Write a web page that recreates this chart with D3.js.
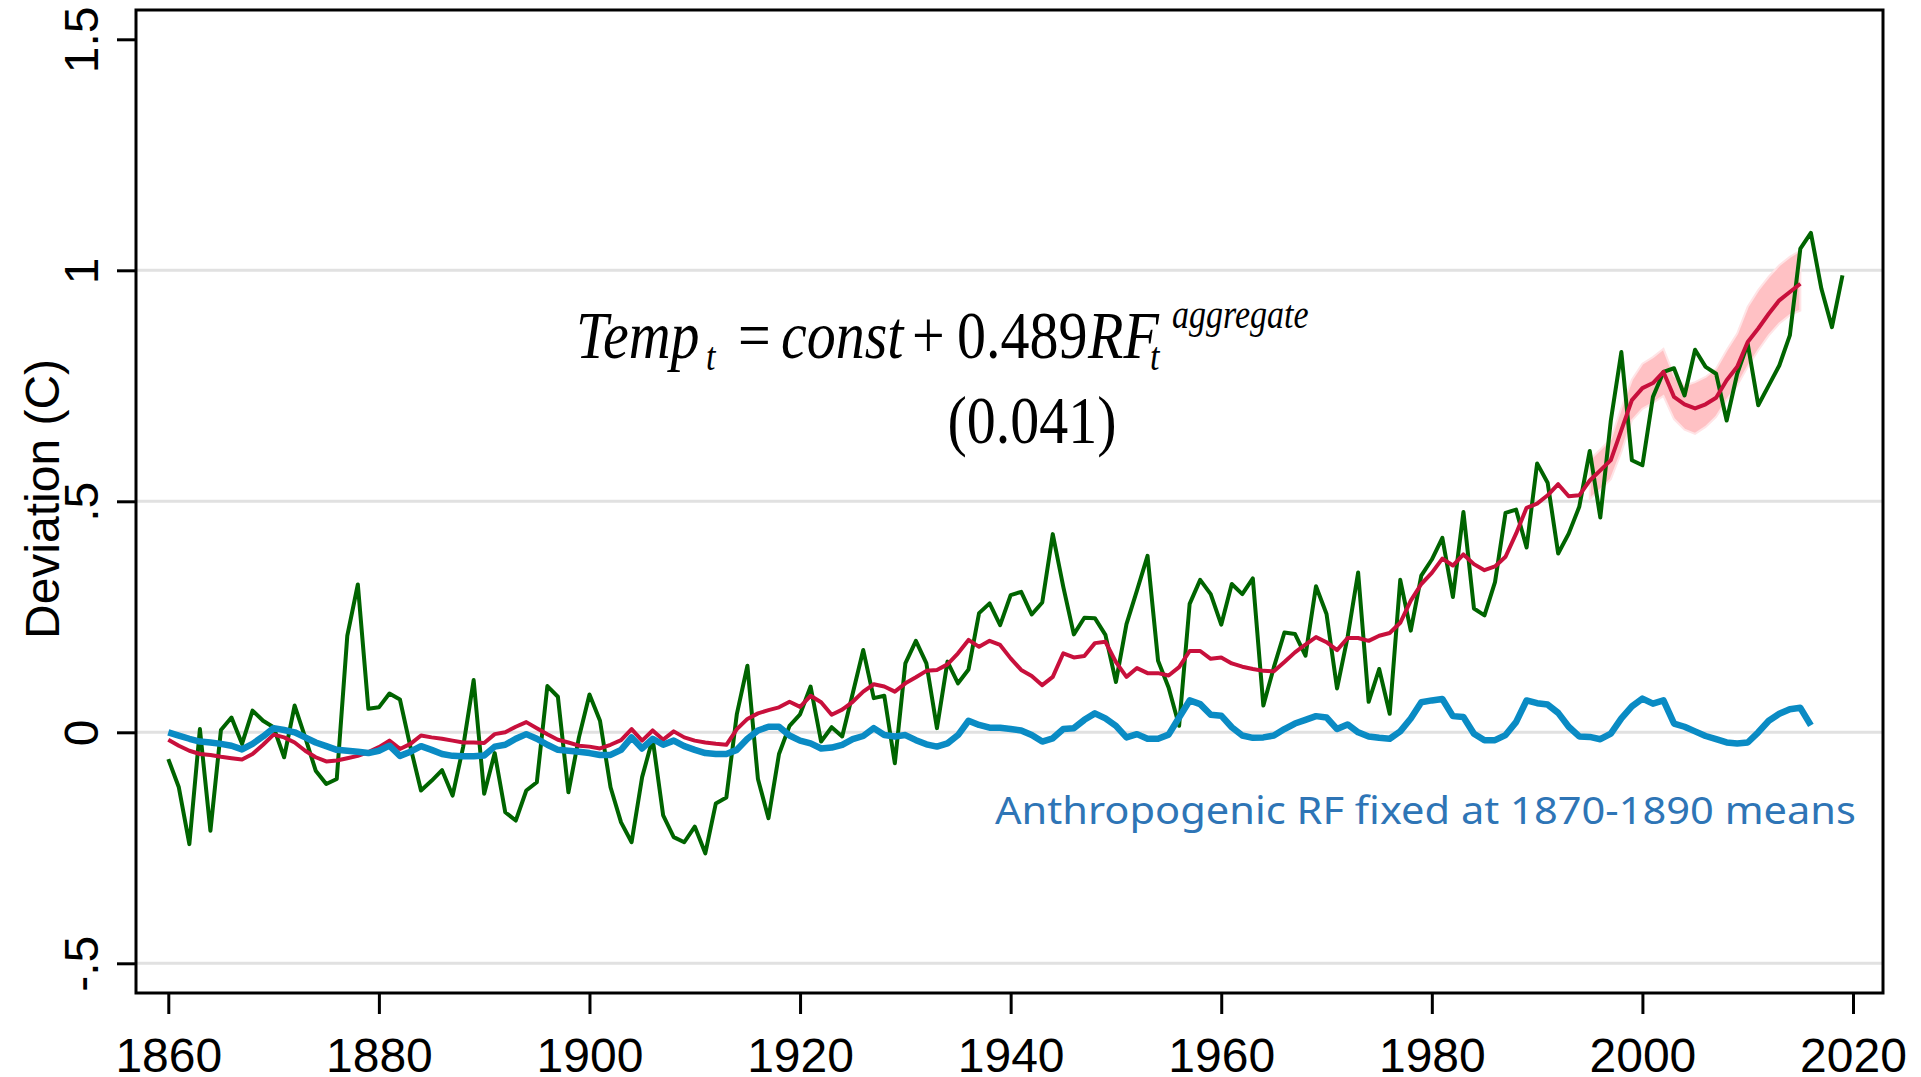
<!DOCTYPE html>
<html>
<head>
<meta charset="utf-8">
<script src="https://cdn.jsdelivr.net/npm/d3@7"></script>
<style>
  body { margin: 0; background: #fff; }
  svg { display: block; }
  .axis text { font-family: "Liberation Sans", Arial, sans-serif; font-size: 48px; fill: #000; }
  .axis line { stroke: #000; stroke-width: 3px; }
  .eq { font-family: "Liberation Serif", "Times New Roman", serif; fill: #000; }
</style>
</head>
<body>
<svg width="1921" height="1077"></svg>
<script>
// observed temperature deviation, 1860-2019
var tempYears = d3.range(1860, 2020);
var tempObs = [
  -0.058, -0.119, -0.242, 0.007, -0.213, 0.005, 0.032, -0.025, 0.047, 0.025,
  0.011, -0.054, 0.058, -0.011, -0.083, -0.112, -0.101, 0.209, 0.320, 0.051,
  0.054, 0.084, 0.071, -0.032, -0.126, -0.105, -0.082, -0.137, -0.032, 0.113,
  -0.133, -0.045, -0.173, -0.191, -0.126, -0.108, 0.100, 0.077, -0.130, -0.011,
  0.082, 0.025, -0.119, -0.195, -0.238, -0.097, -0.014, -0.180, -0.227, -0.238,
  -0.204, -0.262, -0.154, -0.141, 0.040, 0.144, -0.101, -0.186, -0.047, 0.014,
  0.039, 0.099, -0.020, 0.011, -0.009, 0.084, 0.178, 0.074, 0.079, -0.067,
  0.149, 0.198, 0.149, 0.009, 0.153, 0.106, 0.136, 0.258, 0.279, 0.232,
  0.297, 0.304, 0.255, 0.281, 0.429, 0.315, 0.212, 0.248, 0.247, 0.211,
  0.109, 0.234, 0.307, 0.382, 0.155, 0.097, 0.014, 0.278, 0.330, 0.299,
  0.233, 0.321, 0.299, 0.333, 0.058, 0.141, 0.216, 0.213, 0.166, 0.316,
  0.256, 0.095, 0.206, 0.346, 0.066, 0.137, 0.040, 0.330, 0.220, 0.339,
  0.374, 0.421, 0.293, 0.477, 0.268, 0.253, 0.325, 0.475, 0.482, 0.400,
  0.582, 0.540, 0.387, 0.430, 0.488, 0.609, 0.465, 0.675, 0.823, 0.589,
  0.578, 0.726, 0.780, 0.788, 0.729, 0.828, 0.791, 0.776, 0.675, 0.776,
  0.841, 0.708, 0.751, 0.794, 0.859, 1.047, 1.081, 0.960, 0.877, 0.989
];

// fitted values from aggregate RF, 1860-2015
var fitYears = d3.range(1860, 2016);
var fitAggregate = [
  -0.016, -0.029, -0.040, -0.047, -0.049, -0.053, -0.056, -0.059, -0.047, -0.027,
  -0.005, -0.011, -0.022, -0.040, -0.054, -0.063, -0.061, -0.056, -0.051, -0.043,
  -0.032, -0.018, -0.036, -0.025, -0.007, -0.011, -0.014, -0.018, -0.022, -0.022,
  -0.023, -0.004, 0.000, 0.012, 0.022, 0.009, -0.004, -0.016, -0.022, -0.029,
  -0.031, -0.035, -0.027, -0.017, 0.007, -0.018, 0.004, -0.016, 0.002, -0.011,
  -0.018, -0.022, -0.025, -0.027, 0.007, 0.029, 0.041, 0.048, 0.054, 0.066,
  0.055, 0.079, 0.065, 0.038, 0.049, 0.066, 0.088, 0.104, 0.099, 0.088,
  0.106, 0.119, 0.133, 0.135, 0.147, 0.171, 0.200, 0.185, 0.198, 0.189,
  0.160, 0.135, 0.122, 0.102, 0.120, 0.171, 0.162, 0.165, 0.193, 0.196,
  0.152, 0.120, 0.139, 0.128, 0.128, 0.123, 0.141, 0.176, 0.176, 0.159,
  0.162, 0.149, 0.142, 0.137, 0.133, 0.132, 0.152, 0.173, 0.190, 0.206,
  0.195, 0.178, 0.204, 0.204, 0.198, 0.209, 0.215, 0.237, 0.285, 0.321,
  0.345, 0.376, 0.361, 0.385, 0.364, 0.351, 0.359, 0.380, 0.430, 0.486,
  0.495, 0.513, 0.537, 0.511, 0.513, 0.545, 0.567, 0.589, 0.654, 0.719,
  0.745, 0.756, 0.780, 0.726, 0.710, 0.701, 0.710, 0.724, 0.762, 0.791,
  0.845, 0.874, 0.906, 0.935, 0.953, 0.971
];

// confidence band on the fit, 1995-2015
var bandYears = d3.range(1995, 2016);
var bandLow = [
  0.505, 0.525, 0.548, 0.607, 0.675, 0.700, 0.713, 0.728, 0.678, 0.655,
  0.646, 0.661, 0.683, 0.719, 0.751, 0.791, 0.827, 0.859, 0.885, 0.903, 0.913
];
var bandHigh = [
  0.590, 0.612, 0.635, 0.702, 0.763, 0.798, 0.812, 0.830, 0.772, 0.750,
  0.758, 0.769, 0.787, 0.827, 0.863, 0.921, 0.957, 0.986, 1.011, 1.029, 1.043
];

// fit with anthropogenic RF held at 1870-1890 means, 1860-2016
var fixedYears = d3.range(1860, 2017);
var fitFixed = [
  0.000, -0.007, -0.014, -0.020, -0.022, -0.025, -0.029, -0.037, -0.025, -0.009,
  0.009, 0.005, 0.000, -0.011, -0.022, -0.030, -0.038, -0.040, -0.042, -0.045,
  -0.040, -0.029, -0.051, -0.042, -0.030, -0.038, -0.047, -0.051, -0.052, -0.052,
  -0.050, -0.031, -0.027, -0.014, -0.004, -0.014, -0.027, -0.038, -0.040, -0.042,
  -0.045, -0.049, -0.049, -0.038, -0.011, -0.035, -0.014, -0.027, -0.018, -0.030,
  -0.038, -0.045, -0.047, -0.047, -0.038, -0.014, 0.004, 0.012, 0.012, -0.007,
  -0.018, -0.024, -0.035, -0.033, -0.027, -0.015, -0.008, 0.009, -0.006, -0.009,
  -0.006, -0.017, -0.026, -0.031, -0.024, -0.006, 0.025, 0.016, 0.010, 0.010,
  0.007, 0.004, -0.006, -0.020, -0.013, 0.007, 0.009, 0.027, 0.041, 0.030,
  0.014, -0.011, -0.004, -0.014, -0.014, -0.005, 0.032, 0.069, 0.061, 0.038,
  0.036, 0.011, -0.007, -0.012, -0.011, -0.007, 0.007, 0.019, 0.027, 0.035,
  0.032, 0.007, 0.017, 0.000, -0.009, -0.012, -0.014, 0.002, 0.030, 0.065,
  0.069, 0.072, 0.035, 0.033, -0.003, -0.017, -0.017, -0.006, 0.022, 0.069,
  0.063, 0.060, 0.042, 0.012, -0.009, -0.010, -0.015, -0.003, 0.030, 0.056,
  0.073, 0.062, 0.069, 0.019, 0.012, 0.002, -0.008, -0.015, -0.022, -0.024,
  -0.022, 0.000, 0.025, 0.040, 0.050, 0.053, 0.015
];

var xTicks = [1860, 1880, 1900, 1920, 1940, 1960, 1980, 2000, 2020];
var yTicks = [-0.5, 0, 0.5, 1, 1.5];
var yTickLabels = ["-.5", "0", ".5", "1", "1.5"];
var gridValues = [-0.5, 0, 0.5, 1];

var svg = d3.select("svg");

var frame = {left: 136, right: 1883, top: 10, bottom: 993};

var xScale = d3.scaleLinear().domain([1860, 2020]).range([168.3, 1853]);
var yScale = d3.scaleLinear().domain([-0.5, 1.5]).range([963.3, 39.3]);

// grid
svg.append("g").selectAll("line")
    .data(gridValues)
    .enter().append("line")
    .attr("x1", frame.left)
    .attr("x2", frame.right)
    .attr("y1", function(d) { return yScale(d); })
    .attr("y2", function(d) { return yScale(d); })
    .attr("stroke", "#e1e1e1")
    .attr("stroke-width", 3);

// CI band
var band = bandYears.map(function(yr, i) { return {year: yr, lo: bandLow[i], hi: bandHigh[i]}; });
svg.append("path")
    .datum(band)
    .attr("fill", "#ffc1c4")
    .attr("stroke", "#ffe4e6")
    .attr("stroke-width", 2)
    .attr("d", d3.area()
        .x(function(d) { return xScale(d.year); })
        .y0(function(d) { return yScale(d.lo); })
        .y1(function(d) { return yScale(d.hi); }));

function drawSeries(years, values, color, width) {
    var pts = years.map(function(yr, i) { return [yr, values[i]]; });
    svg.append("path")
        .datum(pts)
        .attr("fill", "none")
        .attr("stroke", color)
        .attr("stroke-width", width)
        .attr("stroke-linejoin", "round")
        .attr("d", d3.line()
            .x(function(d) { return xScale(d[0]); })
            .y(function(d) { return yScale(d[1]); }));
}

drawSeries(tempYears, tempObs, "#006400", 4);
drawSeries(fitYears, fitAggregate, "#c8103c", 4);
drawSeries(fixedYears, fitFixed, "#0a8bc4", 6.5);

// frame
svg.append("rect")
    .attr("x", frame.left)
    .attr("y", frame.top)
    .attr("width", frame.right - frame.left)
    .attr("height", frame.bottom - frame.top)
    .attr("fill", "none")
    .attr("stroke", "#000")
    .attr("stroke-width", 3);

// y axis
var yAxis = d3.axisLeft(yScale)
    .tickValues(yTicks)
    .tickSize(19)
    .tickFormat(function(d, i) { return yTickLabels[i]; });

var yg = svg.append("g")
    .attr("class", "axis")
    .attr("transform", "translate(" + frame.left + ",0)")
    .call(yAxis);
yg.select(".domain").remove();
yg.selectAll("text")
    .attr("x", 0).attr("y", 0).attr("dy", 0)
    .attr("text-anchor", "middle")
    .attr("transform", "translate(-38,0) rotate(-90)");

// x axis
var xAxis = d3.axisBottom(xScale)
    .tickValues(xTicks)
    .tickSize(21)
    .tickFormat(d3.format("d"));

var xg = svg.append("g")
    .attr("class", "axis")
    .attr("transform", "translate(0," + frame.bottom + ")")
    .call(xAxis);
xg.select(".domain").remove();
xg.selectAll("text").attr("y", 79).attr("dy", 0);

// axis title
svg.append("text")
    .attr("transform", "translate(59,499) rotate(-90)")
    .attr("text-anchor", "middle")
    .style("font-family", "Liberation Sans, Arial, sans-serif")
    .style("font-size", "48px")
    .text("Deviation (C)");

// equation
var eqPieces = [
    {t: "Temp", x: 576, dy: 0, size: 58, it: true},
    {t: "t", x: 706, dy: 12, size: 34, it: true},
    {t: "=", x: 738, dy: 0, size: 58, it: false},
    {t: "const", x: 781, dy: 0, size: 58, it: true},
    {t: "+", x: 912, dy: 0, size: 58, it: false},
    {t: "0.489", x: 957, dy: 0, size: 58, it: false},
    {t: "RF", x: 1088, dy: 0, size: 58, it: true},
    {t: "t", x: 1150, dy: 12, size: 34, it: true},
    {t: "aggregate", x: 1172, dy: -30, size: 34, it: true}
];
svg.selectAll(".eqpart")
    .data(eqPieces)
    .enter().append("text")
    .attr("class", "eq eqpart")
    .attr("transform", function(d) { return "translate(" + d.x + "," + (358 + d.dy) + ") scale(1,1.15)"; })
    .style("font-size", function(d) { return d.size + "px"; })
    .style("font-style", function(d) { return d.it ? "italic" : "normal"; })
    .text(function(d) { return d.t; });

svg.append("text")
    .attr("class", "eq")
    .attr("transform", "translate(1032,443) scale(1,1.15)")
    .attr("text-anchor", "middle")
    .style("font-size", "58px")
    .text("(0.041)");

// annotation
svg.append("text")
    .attr("x", 995)
    .attr("y", 824)
    .attr("textLength", 861)
    .attr("lengthAdjust", "spacingAndGlyphs")
    .style("font-family", "Noto Sans, Open Sans, sans-serif")
    .style("font-size", "39px")
    .style("fill", "#2e75b6")
    .text("Anthropogenic RF fixed at 1870-1890 means");
</script>
</body>
</html>
